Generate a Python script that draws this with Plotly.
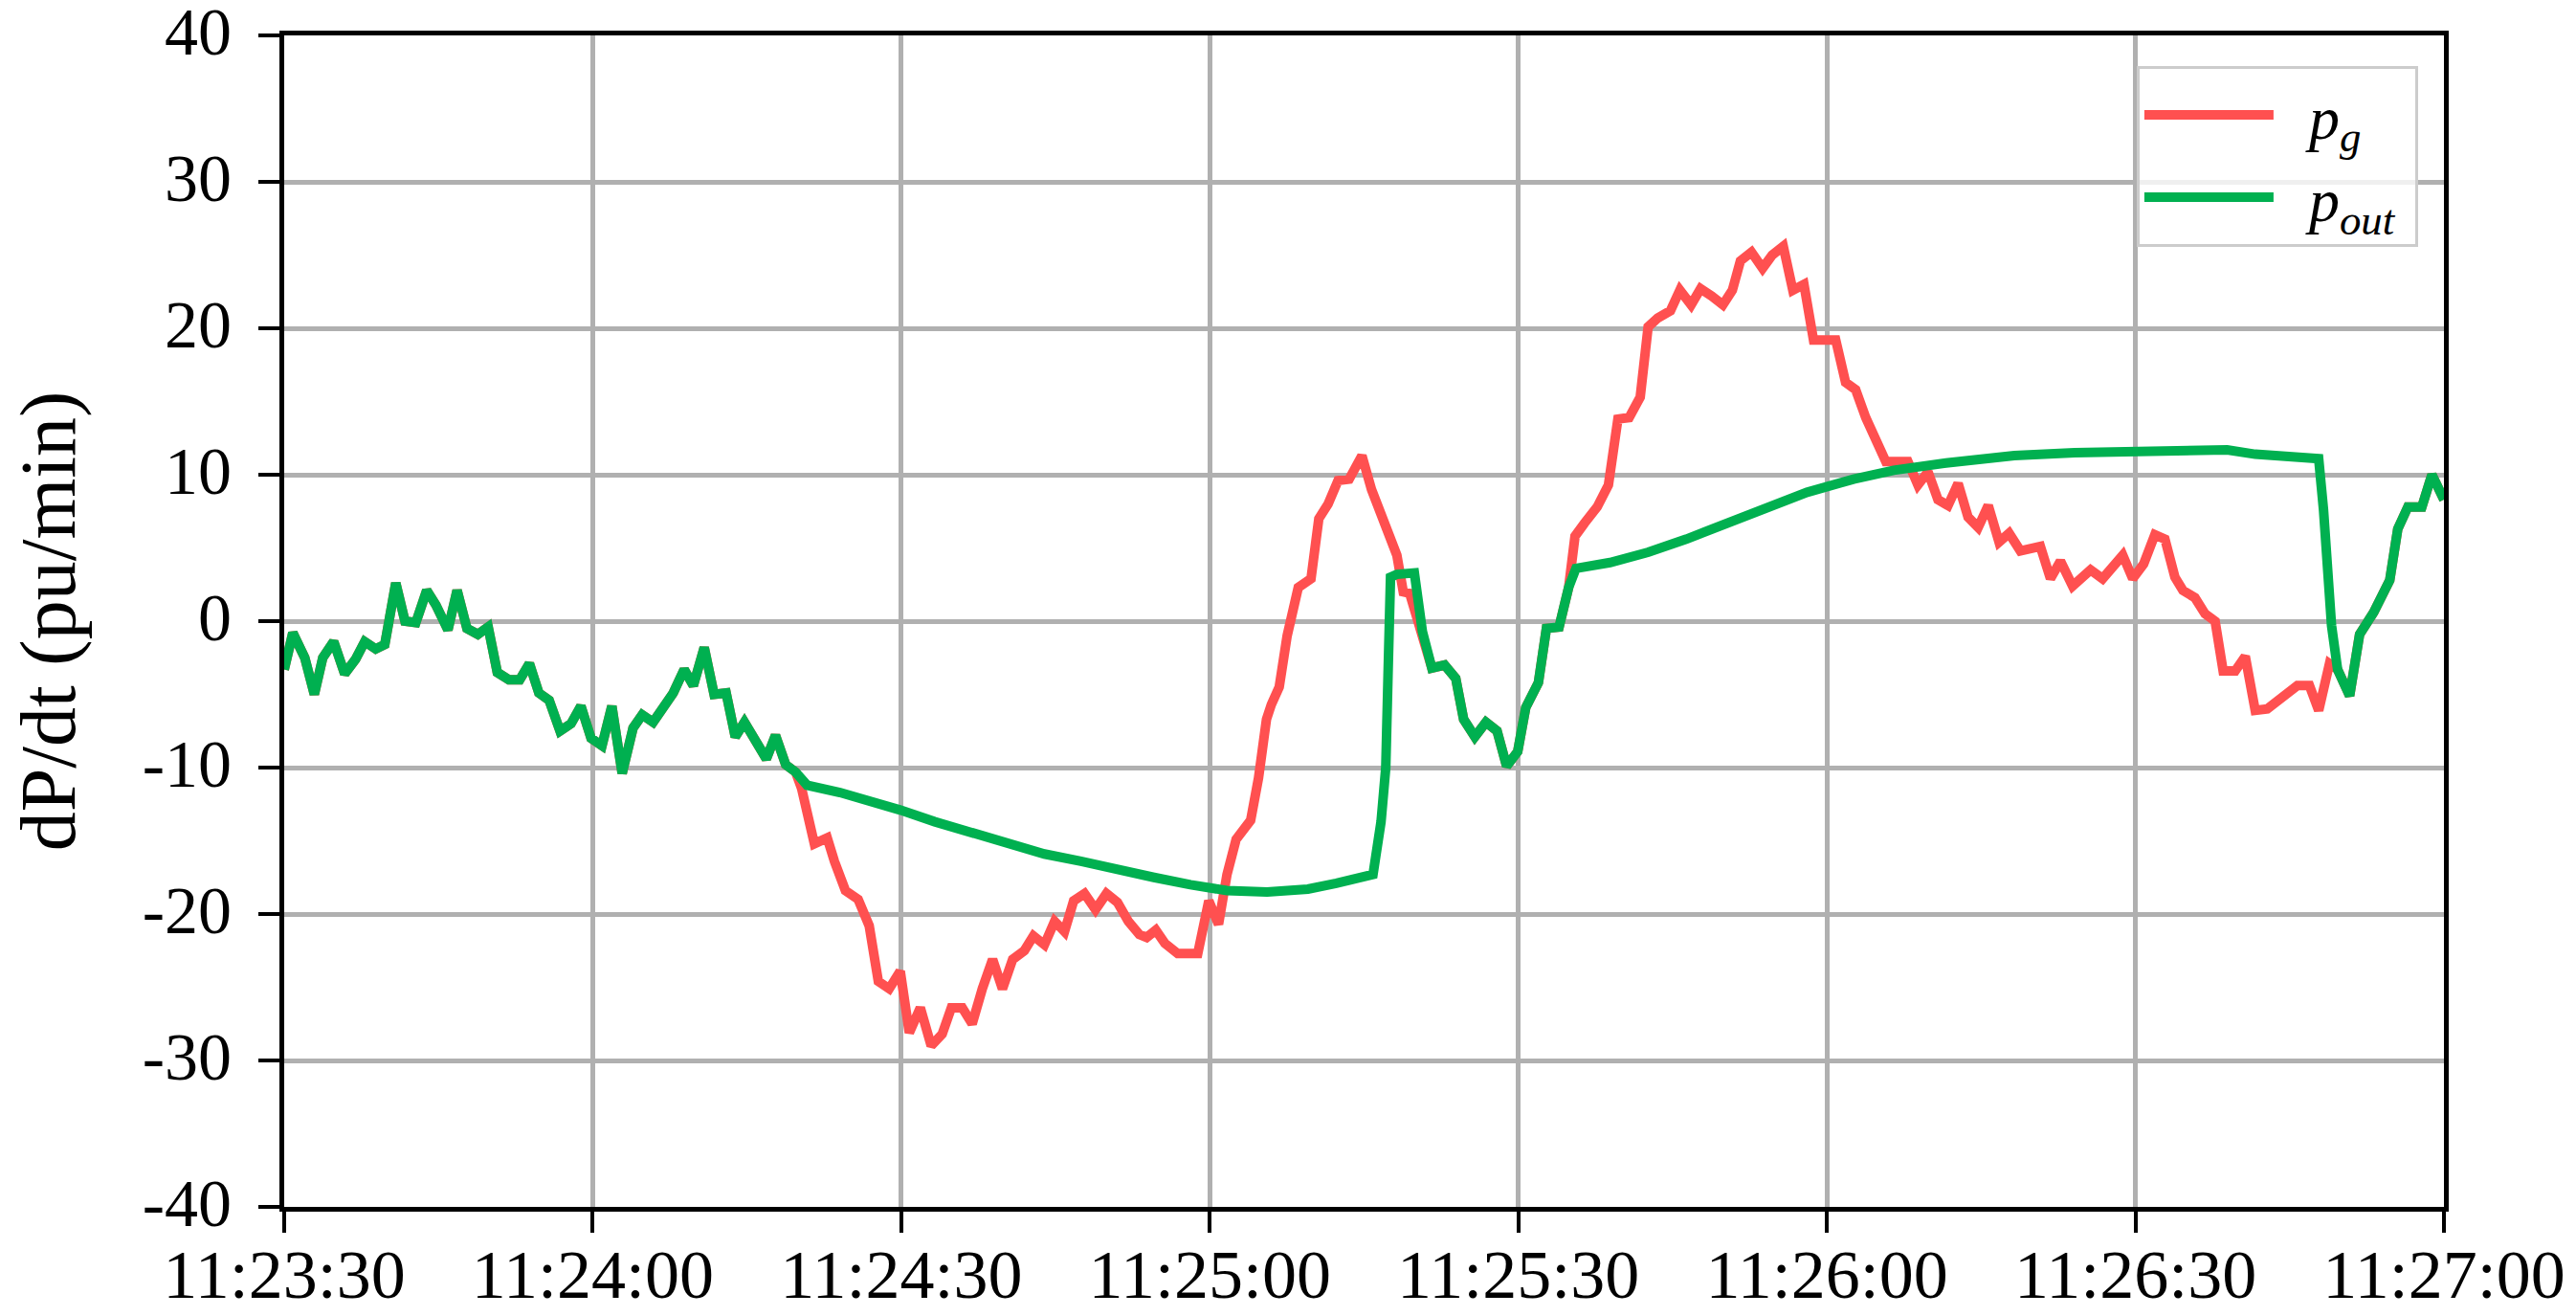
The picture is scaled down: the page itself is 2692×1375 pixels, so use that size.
import pandas as pd
import plotly.graph_objects as go

start = pd.Timestamp("2020-01-01 11:23:30")

# --- data (seconds after 11:23:30, dP/dt in pu/min) ---
# segment where both series coincide
shared_a_t = [0, 0.84, 2.0, 2.93, 3.75, 4.81, 5.88, 6.94, 7.83, 8.9, 9.78, 10.85, 11.74, 12.8, 13.86,
              14.75, 15.92, 16.81, 17.77, 18.83, 19.83, 20.72, 21.85, 22.9, 23.84, 24.76, 25.76, 26.82,
              27.89, 28.85, 29.84, 30.9, 31.86, 32.86, 33.92, 34.81, 35.87, 36.94, 37.83, 38.89, 39.78,
              40.84, 41.8, 42.97, 43.86, 44.75, 45.82, 46.88, 47.77, 48.76, 49.72]
shared_a_v = [-3.3, -0.8, -2.5, -5.0, -2.5, -1.4, -3.6, -2.6, -1.4, -1.9, -1.6, 2.6, 0.0, -0.1, 2.1,
              1.1, -0.6, 2.1, -0.5, -0.9, -0.4, -3.5, -4.0, -4.0, -2.9, -4.9, -5.4, -7.5,
              -7.0, -5.8, -8.0, -8.5, -5.8, -10.4, -7.3, -6.4, -6.9, -5.8, -4.9, -3.3, -4.4,
              -1.8, -5.0, -4.9, -7.9, -6.9, -8.1, -9.4, -7.8, -9.8, -10.3]

pg_b_t = [50.3, 51.55, 52.8, 53.5, 54.57, 55.81, 56.88, 57.77, 58.83, 59.9, 60.78, 61.85, 62.91, 63.98,
          64.87, 65.93, 66.89, 67.88, 68.88, 69.84, 70.83, 71.97, 72.85, 73.92, 74.91, 75.87, 76.76,
          77.82, 78.89, 79.95, 81.02, 82.08, 83.15, 83.86, 84.75, 85.63, 86.88, 88.83, 89.9, 90.85,
          91.67, 92.56, 93.97, 94.74, 95.51, 95.98, 96.75, 97.52, 98.14, 98.6, 99.84, 100.6, 101.5,
          102.47, 103.55, 104.79, 105.72, 106.65, 107.57, 108.19, 108.66, 108.81, 109.43, 109.9]
pg_b_v = [-11.4, -15.2, -14.8, -16.4, -18.4, -19.0, -20.8, -24.6, -25.1, -23.9, -28.1, -26.4, -29.0, -28.2,
          -26.4, -26.4, -27.5, -25.1, -23.1, -25.1, -23.1, -22.5, -21.5, -22.1, -20.5, -21.2, -19.1,
          -18.6, -19.7, -18.6, -19.2, -20.5, -21.4, -21.6, -21.1, -22.0, -22.7, -22.7, -19.1, -20.7,
          -17.3, -14.9, -13.6, -10.7, -6.7, -5.7, -4.5, -1.0, 0.8, 2.3, 2.9, 7.0, 8.0,
          9.6, 9.7, 11.3, 9.0, 7.3, 5.6, 4.5, 2.6, 2.0, 1.9, 0.8]

pout_b_t = [50.84, 54.04, 57.2, 59.9, 63.27, 66.82, 70.37, 73.92, 77.47, 81.02, 84.57, 88.12, 91.67,
            95.57, 99.53, 102.3, 105.87, 106.65, 107.11, 107.33, 107.57, 108.19, 109.89]
pout_b_v = [-11.2, -11.7, -12.3, -12.9, -13.7, -14.4, -15.2, -15.9, -16.4, -17.0, -17.5, -18.0, -18.4,
            -18.5, -18.3, -17.9, -17.3, -13.7, -10.0, -3.7, 3.0, 3.2, 3.3]

shared_c_t = [110.67, 111.59, 112.83, 113.91, 114.68, 115.77, 116.85, 117.93, 118.86, 119.94, 120.72,
              121.95, 122.73, 123.96, 124.89]
shared_c_v = [-0.7, -3.2, -3.0, -3.9, -6.7, -7.9, -6.9, -7.5, -9.9, -8.9, -5.9,
              -4.2, -0.5, -0.4, 2.3]

pg_d_t = [125.51, 126.44, 127.67, 128.76, 129.68, 130.77, 131.85, 132.62, 133.55, 134.79, 135.71, 136.8,
          137.72, 138.8, 139.89, 140.81, 141.59, 142.67, 143.75, 144.68, 145.76, 146.69, 147.77, 148.7,
          150.86, 151.82, 152.8, 153.78, 154.75, 155.73, 157.88, 158.85, 159.83, 160.8, 161.78, 162.76,
          163.73, 164.71, 165.69, 166.74, 167.72, 168.81, 170.76, 171.74, 172.71, 173.89, 175.64, 176.81,
          178.77, 179.74, 180.8, 181.89, 182.87, 183.84, 184.62, 185.79, 186.77, 187.75, 188.53, 189.7,
          190.68, 191.65, 192.82, 194.38, 195.75, 196.92, 197.82, 198.87]
pg_d_v = [5.8, 6.7, 7.8, 9.3, 13.8, 13.9, 15.3, 20.1, 20.7, 21.2, 22.6, 21.6,
          22.7, 22.2, 21.6, 22.6, 24.6, 25.2, 24.1, 25.0, 25.6, 22.6, 23.0, 19.2,
          19.2, 16.3, 15.8, 13.9, 12.4, 10.9, 10.9, 9.3, 10.2, 8.3, 7.9, 9.4,
          7.1, 6.4, 7.9, 5.4, 6.0, 4.8, 5.1, 2.9, 4.1, 2.4, 3.5, 2.9,
          4.5, 2.9, 3.9, 5.9, 5.6, 3.0, 2.1, 1.6, 0.5, 0.0, -3.4, -3.4,
          -2.4, -6.1, -6.0, -5.2, -4.4, -4.4, -6.1, -2.9]

pout_d_t = [125.6, 128.91, 132.62, 136.33, 140.35, 144.37, 148.08, 152.6, 156.5, 161.59, 168.22, 174.08,
            179.94, 185.8, 188.92, 191.65, 195.17, 197.82, 198.29, 199.07]
pout_d_v = [3.6, 4.0, 4.7, 5.6, 6.7, 7.8, 8.8, 9.7, 10.3, 10.8, 11.3, 11.5,
            11.6, 11.7, 11.7, 11.4, 11.2, 11.1, 7.6, -0.3]

shared_e_t = [199.66, 200.83, 201.8, 203.17, 204.73, 205.51, 206.49, 207.85, 208.83, 210.0]
shared_e_v = [-3.3, -5.1, -0.9, 0.6, 2.8, 6.3, 7.8, 7.8, 10.0, 8.3]

pg_t = shared_a_t + pg_b_t + shared_c_t + pg_d_t + shared_e_t
pg_v = shared_a_v + pg_b_v + shared_c_v + pg_d_v + shared_e_v
pout_t = shared_a_t + pout_b_t + shared_c_t + pout_d_t + shared_e_t
pout_v = shared_a_v + pout_b_v + shared_c_v + pout_d_v + shared_e_v

series_names = ["&nbsp;&nbsp;<i>p</i><sub><i>g</i></sub>&nbsp;",
                "&nbsp;&nbsp;<i>p</i><sub><i>out</i></sub>&nbsp;"]
series_colors = ["#FF5050", "#00B050"]

y_tick_vals = [-40, -30, -20, -10, 0, 10, 20, 30, 40]
y_tick_text = ["-40", "-30", "-20", "-10", "0", "10", "20", "30", "40"]

def to_time(ts):
    return start + pd.to_timedelta(pd.Series(ts, dtype=float), unit="s")

FONT = "Liberation Serif"

fig = go.Figure()
for t, v, name, color in [(pg_t, pg_v, series_names[0], series_colors[0]),
                          (pout_t, pout_v, series_names[1], series_colors[1])]:
    fig.add_trace(go.Scatter(x=to_time(t), y=v, mode="lines", name=name,
                             line=dict(color=color, width=10)))

axis_common = dict(
    showline=True, linecolor="black", linewidth=5, mirror=True,
    showgrid=True, gridcolor="#b0b0b0", gridwidth=5,
    ticks="outside", ticklen=22, tickwidth=4, tickcolor="black",
    zeroline=False, ticklabeloverflow="allow", automargin=False,
)

fig.update_xaxes(
    type="date",
    range=[start, start + pd.Timedelta(seconds=210)],
    dtick=30000, tick0=start, tickformat="%H:%M:%S",
    ticklabelstandoff=-18,
    tickfont=dict(family=FONT, size=72, color="black"),
    **axis_common,
)
fig.update_yaxes(
    range=[-40, 40], tickmode="array", tickvals=y_tick_vals, ticktext=y_tick_text,
    ticklabelstandoff=14, ticklabelshift=-5,
    tickfont=dict(family=FONT, size=70, color="black"),
    title=dict(text="dP/dt (pu/min)", font=dict(family=FONT, size=82, color="black"), standoff=44),
    **axis_common,
)

fig.update_layout(
    width=2692, height=1375,
    margin=dict(l=297, r=138, t=37, b=114),
    plot_bgcolor="white", paper_bgcolor="white",
    showlegend=True,
    legend=dict(
        x=0.988, y=0.974, xanchor="right", yanchor="top",
        bgcolor="rgba(255,255,255,0.8)", bordercolor="#cccccc", borderwidth=3,
        font=dict(family=FONT, size=64, color="black"),
        itemwidth=135,
    ),
)

# remove the default page margin so the figure fills the window exactly
fig.write_html("out.html", config={"displayModeBar": False},
               post_script="document.body.style.margin='0px';")
